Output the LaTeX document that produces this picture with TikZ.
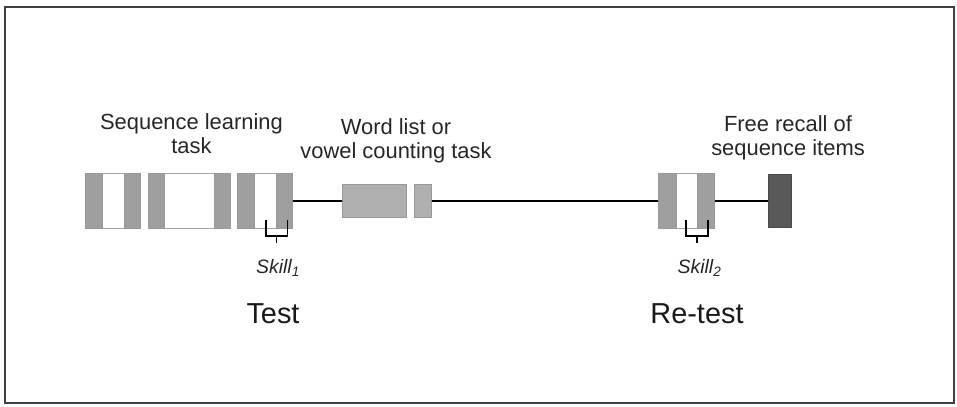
\documentclass[tikz,border=0pt]{standalone}
\usepackage{fontspec}
\setmainfont{Liberation Sans}
\begin{document}
\begin{tikzpicture}[x=1bp,y=-1bp,
  blk/.style={draw=gray!70, line width=0.8bp, fill=white, inner sep=0, minimum height=55bp, anchor=north west},
  panel/.style={fill=gray!75, draw=gray!80, line width=0.6bp},
  conn/.style={line width=1.8bp, black},
  brk/.style={line width=1.6bp, black},
  lbl/.style={font=\fontsize{22}{23.5}\selectfont, text=black!85, align=center, inner sep=0},
  big/.style={font=\fontsize{29}{30}\selectfont, text=black!90, inner sep=0},
  skl/.style={font=\fontsize{19.5}{21}\selectfont\itshape, text=black!85, inner sep=0}]
\useasboundingbox (0,0) rectangle (957,406);
\draw[line width=2.2bp, black!75] (5,7) rectangle (954,403);
% blocks
\node[blk, minimum width=55bp] (b1) at (85,173) {};
\node[blk, minimum width=82bp] (b2) at (148,173) {};
\node[blk, minimum width=55bp] (b3) at (237,173) {};
\node[blk, minimum width=56bp] (b4) at (658,173) {};
\fill[panel] (85,173) rectangle (102,228); \fill[panel] (124,173) rectangle (140,228);
\fill[panel] (148,173) rectangle (164,228); \fill[panel] (214,173) rectangle (230,228);
\fill[panel] (237,173) rectangle (254,228); \fill[panel] (276,173) rectangle (292,228);
\fill[panel] (658,173) rectangle (676,228); \fill[panel] (697,173) rectangle (714,228);
\node[draw=gray!80, fill=gray!62, line width=0.8bp, inner sep=0, minimum width=64bp, minimum height=33bp, anchor=north west] (w) at (342,184) {};
\node[draw=gray!80, fill=gray!62, line width=0.8bp, inner sep=0, minimum width=17bp, minimum height=33bp, anchor=north west] (s) at (414,184) {};
\node[draw=black!70, fill=black!65, line width=0.8bp, inner sep=0, minimum width=23bp, minimum height=53bp, anchor=north west] (d) at (768,174) {};
% connectors
\draw[conn] (b3.east) -- (w.west);
\draw[conn] (s.east) -- (b4.west);
\draw[conn] (b4.east) -- (d.west);
% brackets
\coordinate (k1) at (276.5,243);
\coordinate (k2) at (697,243);
\draw[brk] (266,220) -- (266,236) -- (287.5,236) -- (287.5,220);
\draw[brk] (276.5,236) -- (k1);
\draw[brk] (686,220) -- (686,236) -- (708,236) -- (708,220);
\draw[brk] (697,236) -- (k2);
% labels
\node[lbl, anchor=base] (t1) at (191.5,153) {Sequence learning\\task};
\node[lbl, anchor=base] (t2) at (396,158) {Word list or\\vowel counting task};
\node[lbl, anchor=base] (t3) at (788,155) {Free recall of\\sequence items};
\node[skl, anchor=base] (sk1) at (278,273) {Skill\textsubscript{1}};
\node[skl, anchor=base] (sk2) at (699.5,273) {Skill\textsubscript{2}};
\node[big, anchor=base] (te) at (273,323) {Test};
\node[big, anchor=base] (re) at (697,323) {Re-test};
\end{tikzpicture}
\end{document}
